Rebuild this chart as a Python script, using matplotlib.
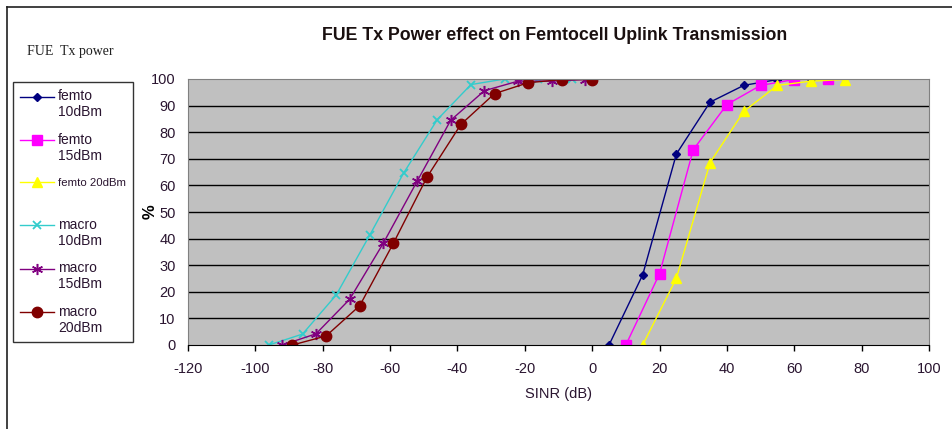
import matplotlib
matplotlib.use("Agg")
import matplotlib.pyplot as plt
import matplotlib.transforms as mtransforms
from matplotlib.lines import Line2D
from matplotlib.legend_handler import HandlerLine2D

# SINR (dB) sample points and cumulative percentages for each FUE Tx power
femto10_x = [5, 15, 25, 35, 45, 55, 65]
femto10_y = [0, 26.4, 71.8, 91.3, 97.6, 99.8, 100]
femto15_x = [10, 20, 30, 40, 50, 60, 70]
femto15_y = [0, 26.8, 73.4, 90.4, 97.6, 99.8, 100]
femto20_x = [15, 25, 35, 45, 55, 65, 75]
femto20_y = [0, 25.1, 68.6, 87.8, 97.6, 99.2, 99.8]
macro10_x = [-96, -86, -76, -66, -56, -46, -36, -26, -16, -6]
macro10_y = [0, 4.1, 18.8, 41.4, 64.6, 84.7, 97.9, 100, 100, 100]
macro15_x = [-92, -82, -72, -62, -52, -42, -32, -22, -12, -2]
macro15_y = [0, 4.2, 17.2, 38.3, 61.5, 84.5, 95.6, 99.2, 99.2, 99.8]
macro20_x = [-89, -79, -69, -59, -49, -39, -29, -19, -9, 0]
macro20_y = [0, 3.4, 14.8, 38.3, 63.2, 82.9, 94.5, 98.6, 99.8, 99.8]

labels = ["femto\n10dBm", "femto\n15dBm", "femto 20dBm\n",
          "macro\n10dBm", "macro\n15dBm", "macro\n20dBm"]
x_ticks = [-120, -100, -80, -60, -40, -20, 0, 20, 40, 60, 80, 100]
y_ticks = [0, 10, 20, 30, 40, 50, 60, 70, 80, 90, 100]

series = [
    (femto10_x, femto10_y, dict(color="#000080", marker="D", ms=4.5)),
    (femto15_x, femto15_y, dict(color="#FF00FF", marker="s", ms=7)),
    (femto20_x, femto20_y, dict(color="#FFFF00", marker="^", ms=7)),
    (macro10_x, macro10_y, dict(color="#33CCCC", marker="x", ms=6, mew=1.3)),
    (macro15_x, macro15_y, dict(color="#800080", marker=(6, 2, 0), ms=8, mew=1.1)),
    (macro20_x, macro20_y, dict(color="#800000", marker="o", ms=7.5)),
]


class FirstLineHandler(HandlerLine2D):
    """Line handle raised so it sits beside the first line of its label."""

    def __init__(self, shift, **kw):
        super().__init__(**kw)
        self.shift = shift

    def create_artists(self, legend, orig_handle, xdescent, ydescent,
                       width, height, fontsize, trans):
        return super().create_artists(legend, orig_handle, xdescent,
                                      ydescent - 2 * self.shift,
                                      width, height, fontsize, trans)


plt.rcParams["font.family"] = ["Liberation Sans", "DejaVu Sans"]
plt.rcParams["axes.unicode_minus"] = False
txt = "#2a1530"

fig = plt.figure(figsize=(9.52, 4.29), dpi=100)
ax = fig.add_axes([188 / 952, 1 - 345 / 429, (929 - 188) / 952, (345 - 79) / 429])
ax.set_facecolor("#C0C0C0")

handles = []
for (xs, ys, st), lab in zip(series, labels):
    h, = ax.plot(xs, ys, lw=1, label=lab, **st)
    handles.append(h)

ax.set_xlim(-120, 100)
ax.set_ylim(0, 100)
ax.set_xticks(x_ticks)
ax.set_yticks(y_ticks)
ax.tick_params(axis="x", direction="out", length=4, width=1, color="black",
               pad=8, labelsize=10.5, labelcolor=txt)
ax.tick_params(axis="y", length=0, pad=9, labelsize=10.5, labelcolor=txt)
for y in y_ticks[1:-1]:
    ax.axhline(y, color="black", lw=1, zorder=0.5)
for s in ("left", "top", "right"):
    ax.spines[s].set_color("#808080")
ax.spines["bottom"].set_color("black")
ax.set_axisbelow(True)

ax.set_xlabel("SINR (dB)", fontsize=10.5, color=txt, labelpad=8)
ax.set_ylabel("%", fontsize=12, fontweight="bold", color="black")
ax.yaxis.set_label_coords((158 - 188) / 741, 0.5)

fig.text(555 / 952, 1 - 35 / 429, "FUE Tx Power effect on Femtocell Uplink Transmission",
         ha="center", va="center", fontsize=12.8, fontweight="bold", color="#1a1010")
fig.text(27 / 952, 1 - 52 / 429, "FUE  Tx power", ha="left", va="center",
         fontsize=10, family=["Liberation Serif", "DejaVu Serif"], color="#202020")

hmap = {h: FirstLineHandler(5.8) for h in handles}
hmap[handles[2]] = FirstLineHandler(5.6)
leg = fig.legend(handles=handles, labels=labels, loc="upper left",
                 bbox_to_anchor=(13 / 952, 1 - 82 / 429), borderaxespad=0,
                 fontsize=10, frameon=True, fancybox=False, edgecolor="black",
                 handlelength=2.45, handletextpad=0.3, labelspacing=0.965,
                 borderpad=0.5, labelcolor=txt, handler_map=hmap)
leg.get_frame().set_linewidth(1)
t20 = leg.get_texts()[2]
t20.set_fontsize(8.2)
t20.set_linespacing(2.0)
t20.set_transform(t20.get_transform() + mtransforms.Affine2D().translate(0, -2))

# outer chart frame
fig.add_artist(Line2D([7 / 952, 1], [1 - 7 / 429, 1 - 7 / 429], color="#202020", lw=1.2))
fig.add_artist(Line2D([7 / 952, 7 / 952], [0, 1 - 7 / 429], color="#202020", lw=1.2))

fig.savefig("out.png", dpi=100)
